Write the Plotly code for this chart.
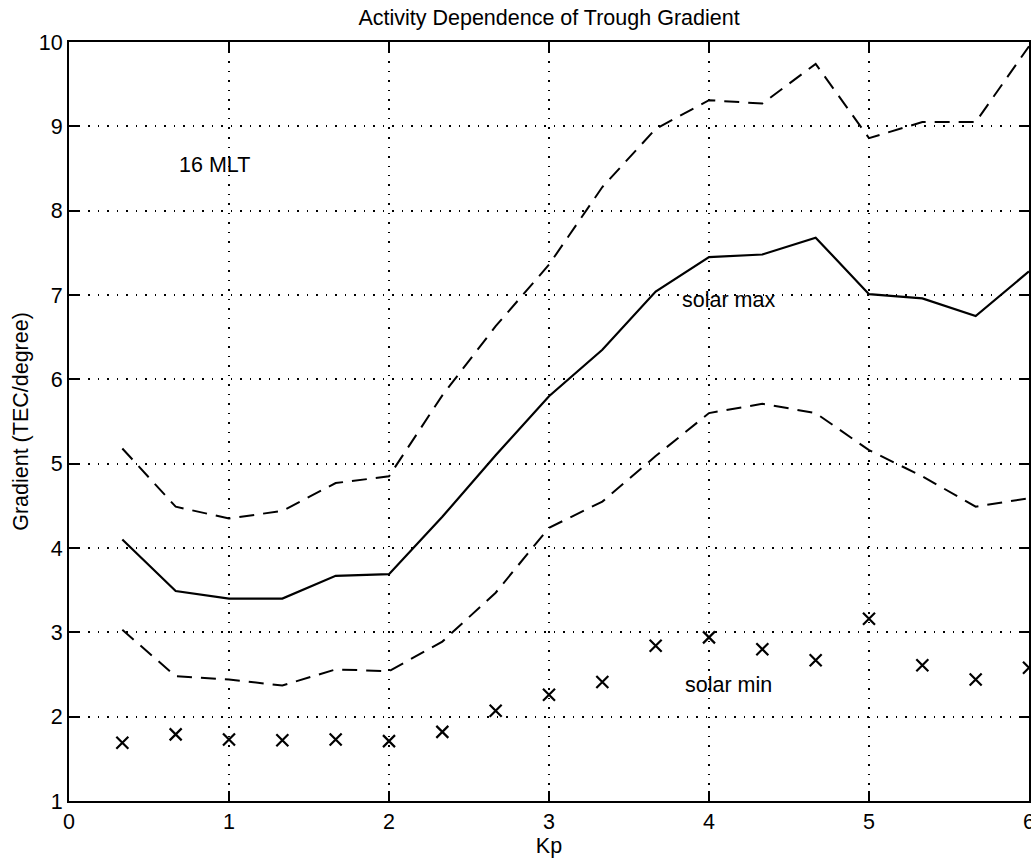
import plotly.graph_objects as go

kp = [1/3, 2/3, 1, 4/3, 5/3, 2, 7/3, 8/3, 3, 10/3, 11/3, 4, 13/3, 14/3, 5, 16/3, 17/3, 6]

solar_max_mean = [4.10, 3.49, 3.40, 3.40, 3.67, 3.69, 4.37, 5.10, 5.80, 6.35, 7.04, 7.45,
                  7.48, 7.68, 7.01, 6.96, 6.75, 7.28]
solar_max_upper = [5.18, 4.49, 4.35, 4.44, 4.77, 4.85, 5.81, 6.63, 7.36, 8.28, 8.97, 9.31,
                   9.27, 9.74, 8.86, 9.05, 9.05, 9.95]
solar_max_lower = [3.03, 2.48, 2.44, 2.37, 2.56, 2.54, 2.89, 3.47, 4.24, 4.55, 5.09, 5.60,
                   5.71, 5.60, 5.16, 4.85, 4.49, 4.59]
solar_min = [1.69, 1.79, 1.73, 1.72, 1.73, 1.71, 1.82, 2.07, 2.26, 2.41, 2.84, 2.94,
             2.80, 2.67, 3.16, 2.61, 2.44, 2.58]

x_ticks = [0, 1, 2, 3, 4, 5, 6]
y_ticks = [1, 2, 3, 4, 5, 6, 7, 8, 9, 10]

FONT = "Liberation Sans, Arial, Helvetica, sans-serif"
FS = 21.5

fig = go.Figure()
dash_style = dict(color="black", width=2, dash="15px,9px")
fig.add_trace(go.Scatter(x=kp, y=solar_max_upper, mode="lines", line=dash_style,
                         name="solar max + sd", showlegend=False, cliponaxis=False))
fig.add_trace(go.Scatter(x=kp, y=solar_max_lower, mode="lines", line=dash_style,
                         name="solar max - sd", showlegend=False, cliponaxis=False))
fig.add_trace(go.Scatter(x=kp, y=solar_max_mean, mode="lines",
                         line=dict(color="black", width=2.2), name="solar max",
                         showlegend=False, cliponaxis=False))
fig.add_trace(go.Scatter(x=kp, y=solar_min, mode="markers",
                         marker=dict(symbol="x-thin", size=12, color="black",
                                     line=dict(color="black", width=2.2)),
                         name="solar min", showlegend=False, cliponaxis=False))

axis_common = dict(
    showline=True, linecolor="black", linewidth=2.2, mirror="ticks",
    ticks="inside", ticklen=10, tickwidth=1.5, tickcolor="black",
    showgrid=True, gridcolor="black", gridwidth=1.5, griddash="1.5px,8px",
    zeroline=False, automargin=False, ticklabeloverflow="allow",
    tickfont=dict(family=FONT, size=FS, color="black"),
)

fig.update_xaxes(range=[0, 6], tickvals=x_ticks, ticktext=[str(v) for v in x_ticks],
                 title=dict(text="Kp", font=dict(family=FONT, size=FS, color="black"),
                            standoff=2),
                 **axis_common)
fig.update_yaxes(range=[1, 10], tickvals=y_ticks, ticktext=[str(v) for v in y_ticks],
                 title=dict(text="Gradient (TEC/degree)",
                            font=dict(family=FONT, size=FS, color="black"), standoff=4),
                 **axis_common)

fig.add_annotation(x=0.675, y=8.54, text="16 MLT", showarrow=False, xanchor="left",
                   yanchor="middle", font=dict(family=FONT, size=FS, color="black"))
fig.add_annotation(x=3.82, y=6.94, text="solar max", showarrow=False, xanchor="left",
                   yanchor="middle", font=dict(family=FONT, size=FS, color="black"))
fig.add_annotation(x=3.84, y=2.38, text="solar min", showarrow=False, xanchor="left",
                   yanchor="middle", font=dict(family=FONT, size=FS, color="black"))

fig.update_layout(
    width=1031, height=859,
    margin=dict(l=69, r=2, t=42, b=58),
    paper_bgcolor="white", plot_bgcolor="white",
    title=dict(text="Activity Dependence of Trough Gradient", x=0.5, xref="paper",
               xanchor="center", y=1 - 17/859, yanchor="middle",
               font=dict(family=FONT, size=FS, color="black"), automargin=False),
    showlegend=False,
)

fig.write_html("out.html", config={"displayModeBar": False},
               post_script="document.body.style.margin='0';document.body.style.overflow='hidden';")
